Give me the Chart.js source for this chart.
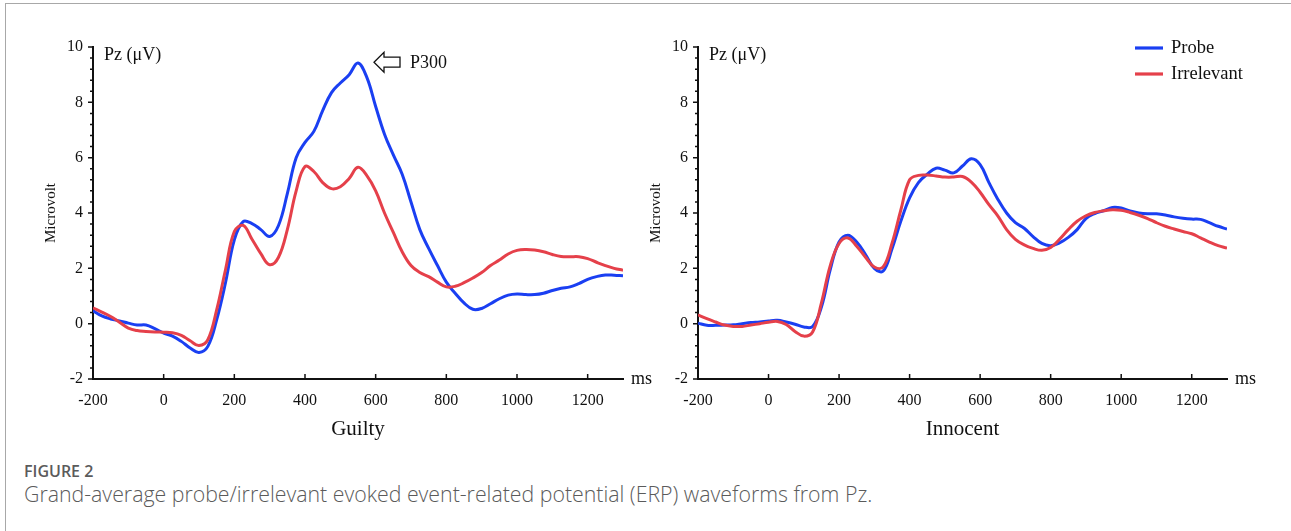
<!DOCTYPE html>
<html>
<head>
<meta charset="utf-8">
<script src="https://cdn.jsdelivr.net/npm/chart.js@4.4.1/dist/chart.umd.min.js"></script>
<style>
  body { margin: 0; width: 1291px; height: 531px; background: #fff; overflow: hidden; position: relative; }
  #frame { position: absolute; left: 5px; top: 3px; right: 0; bottom: 0; border-top: 1px solid #a8a8a8; border-left: 1px solid #a8a8a8; }
  canvas { position: absolute; top: 0; }
  #guilty { left: 0; }
  #innocent { left: 645px; }
  .fig { position: absolute; left: 24px; font-family: "Open Sans", sans-serif; color: #5b5b5b; white-space: nowrap; }
  #figNo { top: 461px; font-size: 16px; line-height: 20px; font-weight: 600; }
  #figCap { top: 480px; font-size: 21.3px; line-height: 28px; font-weight: 300; }
</style>
</head>
<body>
<div id="frame"></div>
<canvas id="guilty" width="670" height="450"></canvas>
<canvas id="innocent" width="646" height="450"></canvas>
<div class="fig" id="figNo">FIGURE 2</div>
<div class="fig" id="figCap">Grand-average probe/irrelevant evoked event-related potential (ERP) waveforms from Pz.</div>
<script>
// time points (ms)
const timesMs = [-200, -175, -150, -125, -100, -75, -50, -25, 0, 25, 50, 75, 100, 125, 150, 175,
  200, 225, 250, 275, 300, 325, 350, 375, 400, 425, 450, 475, 500, 525, 550, 575, 600, 625, 650, 675,
  700, 725, 750, 775, 800, 825, 850, 875, 900, 925, 950, 975, 1000, 1025, 1050, 1075, 1100, 1125,
  1150, 1175, 1200, 1225, 1250, 1275, 1300];

// Guilty group, Pz (uV)
const guiltyProbe = [0.47, 0.28, 0.17, 0.1, 0.02, -0.05, -0.05, -0.18, -0.34, -0.45, -0.64, -0.88, -1.04, -0.82, 0.14, 1.48,
  3.03, 3.69, 3.62, 3.4, 3.15, 3.55, 4.7, 6.0, 6.55, 6.95, 7.7, 8.35, 8.7, 9.0, 9.42, 8.9, 7.85, 6.85, 6.1, 5.4,
  4.4, 3.4, 2.72, 2.1, 1.5, 1.1, 0.75, 0.52, 0.55, 0.72, 0.9, 1.03, 1.07, 1.05, 1.05, 1.1, 1.2, 1.28,
  1.33, 1.45, 1.6, 1.7, 1.76, 1.75, 1.73];
const guiltyIrrelevant = [0.57, 0.42, 0.26, 0.05, -0.16, -0.25, -0.28, -0.3, -0.31, -0.33, -0.42, -0.62, -0.79, -0.58, 0.5, 1.95,
  3.33, 3.55, 3.05, 2.53, 2.13, 2.4, 3.4, 4.8, 5.68, 5.5, 5.1, 4.88, 4.95, 5.25, 5.65, 5.35, 4.8, 4.0, 3.3, 2.6,
  2.1, 1.85, 1.7, 1.5, 1.33, 1.35, 1.48, 1.65, 1.85, 2.1, 2.3, 2.52, 2.65, 2.68, 2.66, 2.6, 2.5, 2.43,
  2.42, 2.42, 2.35, 2.22, 2.1, 2.0, 1.93];

// Innocent group, Pz (uV)
const innocentProbe = [0.02, -0.06, -0.06, -0.05, -0.04, 0.0, 0.04, 0.06, 0.1, 0.12, 0.06, -0.02, -0.12, -0.1, 0.6, 1.95,
  2.95, 3.2, 2.95, 2.5, 2.0, 1.9, 2.7, 3.7, 4.55, 5.1, 5.4, 5.62, 5.55, 5.45, 5.7, 5.96, 5.75, 5.1, 4.5, 4.0,
  3.65, 3.45, 3.15, 2.9, 2.82, 2.92, 3.12, 3.4, 3.8, 3.98, 4.08, 4.2, 4.18, 4.07, 4.0, 3.97, 3.97, 3.93,
  3.86, 3.81, 3.78, 3.77, 3.65, 3.52, 3.42];
const innocentIrrelevant = [0.32, 0.18, 0.06, -0.05, -0.1, -0.1, -0.05, 0.0, 0.05, 0.08, -0.03, -0.28, -0.45, -0.3, 0.75, 2.1,
  2.9, 3.1, 2.8, 2.4, 2.05, 2.05, 2.9, 4.1, 5.2, 5.36, 5.37, 5.34, 5.3, 5.3, 5.32, 5.12, 4.75, 4.3, 3.9, 3.4,
  3.05, 2.85, 2.72, 2.65, 2.75, 3.05, 3.4, 3.7, 3.9, 4.02, 4.08, 4.12, 4.1, 4.02, 3.92, 3.8, 3.65, 3.52,
  3.42, 3.33, 3.25, 3.1, 2.95, 2.82, 2.73];

const xTickLabels = [-200, 0, 200, 400, 600, 800, 1000, 1200];
const seriesNames = ["Probe", "Irrelevant"];
const blue = "#1a3ff2";
const red = "#e5404a";
const serif = "'Liberation Serif', 'Times New Roman', serif";

function pts(vals) {
  return timesMs.map((t, i) => ({ x: t, y: vals[i] }));
}

// ticks, axis words and annotations drawn on top of the chart
const decor = {
  id: "decor",
  afterDraw(chart, args, o) {
    const { ctx, chartArea: a, scales: { x, y } } = chart;
    ctx.save();
    ctx.strokeStyle = "#111";
    ctx.lineWidth = 1.5;
    ctx.beginPath();
    for (let i = 0; i <= 30; i++) {
      const py = y.getPixelForValue(-2 + i * 0.4);
      const len = i % 5 === 0 ? 5 : 3;
      ctx.moveTo(a.left, py);
      ctx.lineTo(a.left - len, py);
    }
    xTickLabels.slice(1).forEach(v => {
      const px = x.getPixelForValue(v);
      ctx.moveTo(px, a.bottom);
      ctx.lineTo(px, a.bottom - 5);
    });
    ctx.stroke();

    ctx.fillStyle = "#111";
    ctx.font = "18px " + serif;
    ctx.textBaseline = "middle";
    ctx.textAlign = "left";
    ctx.fillText("ms", a.right + 8, a.bottom);

    ctx.textBaseline = "alphabetic";
    ctx.fillText("Pz (\u03bcV)", a.left + 11, 60);

    ctx.font = "21px " + serif;
    ctx.textAlign = "center";
    ctx.fillText(o.title, (a.left + a.right) / 2, 435);

    ctx.save();
    ctx.font = "15px " + serif;
    ctx.translate(a.left - 42, (a.top + a.bottom) / 2);
    ctx.rotate(-Math.PI / 2);
    ctx.textBaseline = "middle";
    ctx.fillText("Microvolt", 0, 0);
    ctx.restore();

    if (o.arrow) {
      const tx = x.getPixelForValue(550) + 16;
      const ty = y.getPixelForValue(9.45);
      ctx.beginPath();
      ctx.moveTo(tx, ty);
      ctx.lineTo(tx + 10, ty - 10);
      ctx.lineTo(tx + 10, ty - 5);
      ctx.lineTo(tx + 26, ty - 5);
      ctx.lineTo(tx + 26, ty + 5);
      ctx.lineTo(tx + 10, ty + 5);
      ctx.lineTo(tx + 10, ty + 10);
      ctx.closePath();
      ctx.lineWidth = 1.3;
      ctx.stroke();
      ctx.font = "18px " + serif;
      ctx.textAlign = "left";
      ctx.textBaseline = "middle";
      ctx.fillText("P300", tx + 36, ty + 1);
    }

    if (o.legend) {
      const lx = a.right - 92;
      [blue, red].forEach((c, i) => {
        const ly = 48 + i * 26;
        ctx.strokeStyle = c;
        ctx.lineWidth = 3.2;
        ctx.beginPath();
        ctx.moveTo(lx, ly);
        ctx.lineTo(lx + 28, ly);
        ctx.stroke();
        ctx.font = "18.5px " + serif;
        ctx.textAlign = "left";
        ctx.textBaseline = "middle";
        ctx.fillStyle = "#111";
        ctx.fillText(seriesNames[i], lx + 36, ly);
      });
    }
    ctx.restore();
  }
};

function makeChart(id, probe, irrelevant, yWidth, pad, extra) {
  return new Chart(document.getElementById(id), {
    type: "line",
    data: {
      datasets: [
        { label: seriesNames[1], data: pts(irrelevant), borderColor: red, borderWidth: 3, pointRadius: 0, tension: 0.4, fill: false },
        { label: seriesNames[0], data: pts(probe), borderColor: blue, borderWidth: 3, pointRadius: 0, tension: 0.4, fill: false }
      ]
    },
    options: {
      responsive: false,
      animation: false,
      layout: { padding: pad },
      plugins: { legend: { display: false }, tooltip: { enabled: false }, decor: extra },
      scales: {
        x: {
          type: "linear",
          min: -200,
          max: 1300,
          afterFit: s => { s.height = 71; },
          afterBuildTicks: s => { s.ticks = xTickLabels.map(v => ({ value: v })); },
          grid: { display: false, drawTicks: false },
          border: { display: true, color: "#111", width: 2 },
          ticks: {
            padding: 12, color: "#111", font: { family: serif, size: 16 },
            maxRotation: 0, autoSkip: false, callback: v => String(v)
          }
        },
        y: {
          min: -2,
          max: 10,
          afterFit: s => { s.width = yWidth; },
          grid: { display: false, drawTicks: false },
          border: { display: true, color: "#111", width: 2 },
          ticks: { stepSize: 2, padding: 10, color: "#111", font: { family: serif, size: 16 } }
        }
      }
    },
    plugins: [decor]
  });
}

makeChart("guilty", guiltyProbe, guiltyIrrelevant, 93,
  { left: 0, top: 47, right: 47, bottom: 0 }, { title: "Guilty", arrow: true, legend: false });
makeChart("innocent", innocentProbe, innocentIrrelevant, 53,
  { left: 0, top: 47, right: 64, bottom: 0 }, { title: "Innocent", arrow: false, legend: true });
</script>
</body>
</html>
